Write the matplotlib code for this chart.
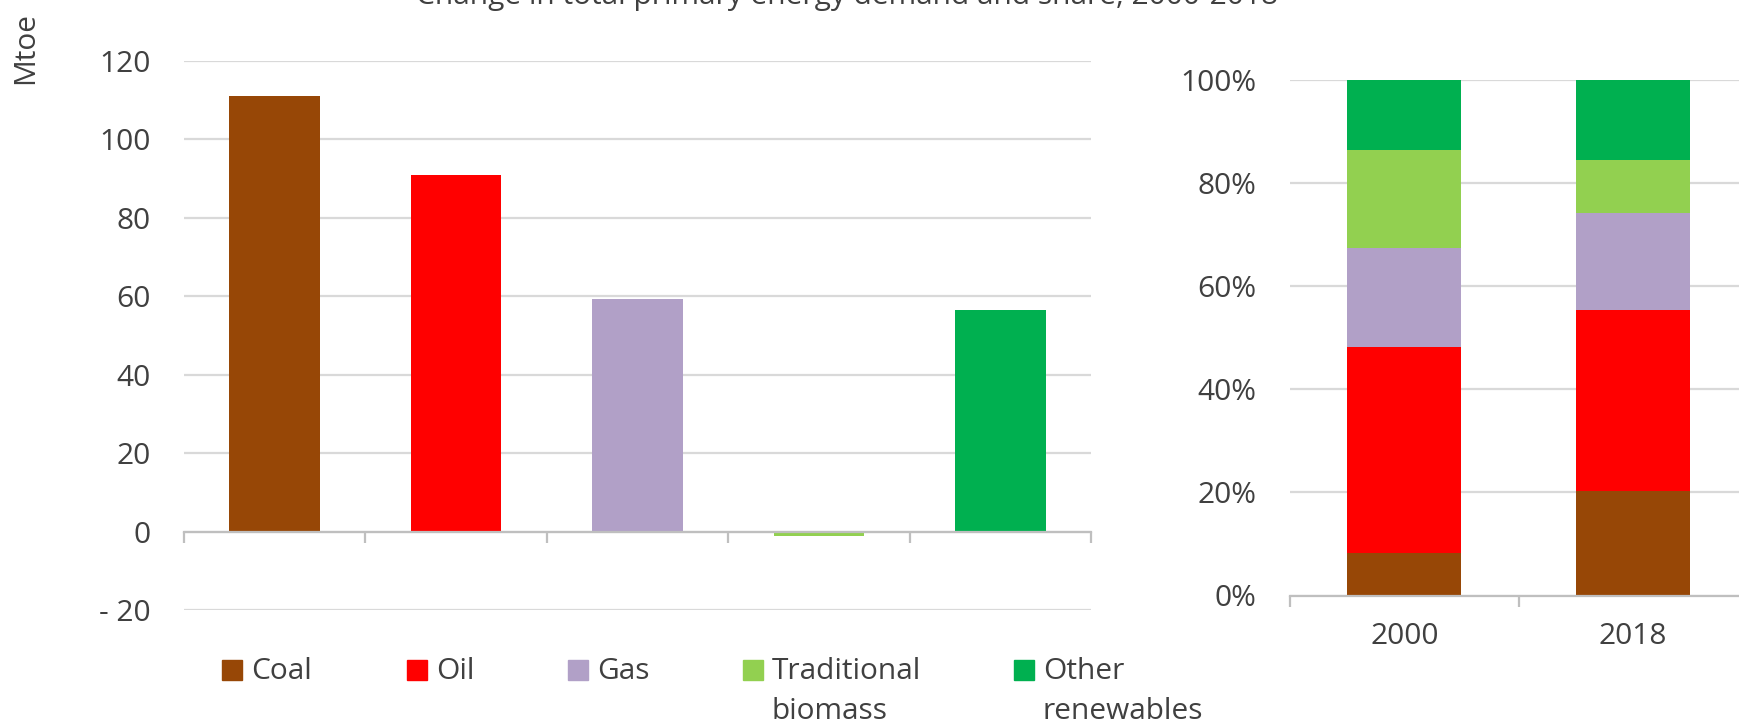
import numpy as np
import matplotlib.pyplot as plt
from matplotlib.patches import Rectangle
from matplotlib.ticker import FixedLocator, FixedFormatter

plt.rcParams['font.family'] = ['Open Sans', 'DejaVu Sans']
plt.rcParams['font.size'] = 21.5

# fuels, change in demand 2000-2018 (Mtoe)
fuels = ['Coal', 'Oil', 'Gas', 'Traditional\nbiomass', 'Other\nrenewables']
colors = ['#974706', '#FF0000', '#B1A0C7', '#92D050', '#00B050']
change = [111.0, 90.9, 59.3, -1.2, 56.6]

# fuel shares of total primary energy demand (%)
years = ['2000', '2018']
share_2000 = [8.2, 40.1, 19.2, 19.0, 13.5]
share_2018 = [20.3, 35.1, 18.8, 10.3, 15.5]

left_ticks = [-20, 0, 20, 40, 60, 80, 100, 120]
left_labels = ['- 20', '0', '20', '40', '60', '80', '100', '120']
right_ticks = [0, 20, 40, 60, 80, 100]
right_labels = ['0%', '20%', '40%', '60%', '80%', '100%']

txt = '#404040'
grid = '#D9D9D9'
axc = '#BFBFBF'

fig = plt.figure(figsize=(17.4, 7.24), dpi=100)

# ---- change in demand
ax = fig.add_axes([184 / 1740, 1 - 610 / 724, 907 / 1740, 549 / 724])
x = np.arange(len(fuels))
ax.bar(x, change, width=0.5, color=colors, zorder=3)
ax.set_xlim(-0.5, len(fuels) - 0.5)
ax.set_ylim(-20, 120)
ax.yaxis.set_major_locator(FixedLocator(left_ticks))
ax.yaxis.set_major_formatter(FixedFormatter(left_labels))
ax.set_xticks(np.arange(len(fuels) + 1) - 0.5)
ax.set_xticklabels([])
ax.grid(axis='y', color=grid, lw=1.6, zorder=0)
for s in ['top', 'right', 'left']:
    ax.spines[s].set_visible(False)
ax.spines['bottom'].set_position(('data', 0))
ax.spines['bottom'].set_color(axc)
ax.spines['bottom'].set_linewidth(1.6)
ax.spines['bottom'].set_zorder(4)
ax.tick_params(axis='x', length=8, width=1.6, color=axc, direction='out')
ax.tick_params(axis='y', length=0, pad=24, colors=txt)

# ---- shares
ax2 = fig.add_axes([1290 / 1740, 1 - 595.5 / 724, 457 / 1740, 515.5 / 724])
shares = np.array([share_2000, share_2018])
bottom = np.zeros(len(years))
for i in range(len(fuels)):
    ax2.bar(np.arange(len(years)), shares[:, i], bottom=bottom, width=0.5,
            color=colors[i], zorder=3)
    bottom += shares[:, i]
ax2.set_xlim(-0.5, len(years) - 0.5)
ax2.set_ylim(0, 100)
ax2.yaxis.set_major_locator(FixedLocator(right_ticks))
ax2.yaxis.set_major_formatter(FixedFormatter(right_labels))
ax2.set_xticks(np.arange(len(years)))
ax2.set_xticklabels(years)
ax2.set_xticks(np.arange(len(years) + 1) - 0.5, minor=True)
ax2.grid(axis='y', color=grid, lw=1.6, zorder=0)
for s in ['top', 'right', 'left']:
    ax2.spines[s].set_visible(False)
ax2.spines['bottom'].set_color(axc)
ax2.spines['bottom'].set_linewidth(1.6)
ax2.spines['bottom'].set_zorder(4)
ax2.tick_params(axis='x', which='major', length=0, pad=19, colors=txt)
ax2.tick_params(axis='x', which='minor', length=8, width=1.6, color=axc)
ax2.tick_params(axis='y', length=0, pad=24, colors=txt)

# ---- titles and legend
fig.text(847 / 1740, 1 - 4 / 724, 'Change in total primary energy demand and share, 2000-2018',
         ha='center', va='baseline', color=txt)
fig.text(26 / 1740, 1 - 48 / 724, 'Mtoe', rotation=90, ha='center', va='center', color=txt)

leg_x = [222, 407, 568, 743, 1014]
for lx, name, c in zip(leg_x, fuels, colors):
    fig.add_artist(Rectangle((lx / 1740, 1 - 680 / 724), 20 / 1740, 20 / 724,
                             transform=fig.transFigure, color=c))
    fig.text((lx + 29) / 1740, 1 - 657 / 724, name, ha='left', va='top',
             color=txt, linespacing=1.5)

fig.savefig('out.png', dpi=100)
